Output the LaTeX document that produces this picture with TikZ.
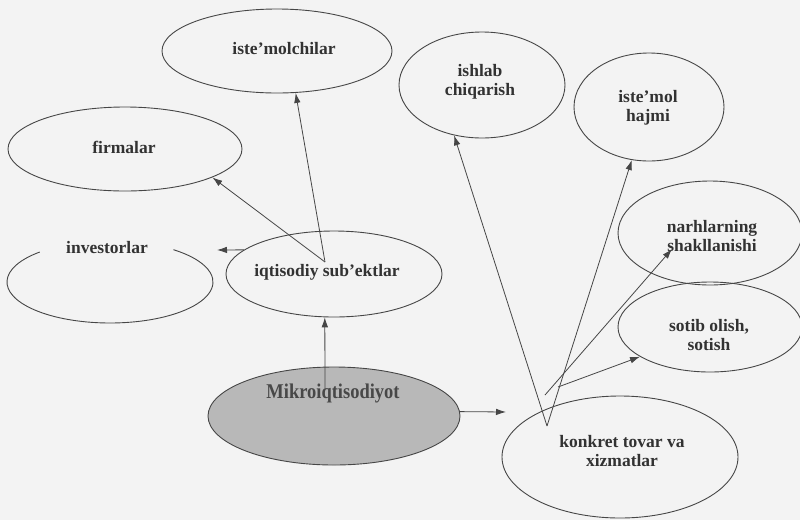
\documentclass[tikz,border=0pt]{standalone}
\usepackage{fontspec}
\setmainfont{Liberation Serif}
\usetikzlibrary{shapes.geometric,arrows.meta,calc}
\definecolor{bg}{RGB}{243,243,243}
\definecolor{lc}{RGB}{70,70,70}
\definecolor{tc}{RGB}{50,50,50}
\definecolor{mf}{RGB}{184,184,184}
\begin{document}
\begin{tikzpicture}[x=1pt,y=-1pt,
  ell/.style={ellipse,draw=lc,line width=0.9pt,inner sep=0pt},
  lab/.style={font=\fontsize{17.5}{19.5}\selectfont\bfseries,text=tc,align=center,inner sep=0pt},
  arr/.style={draw=lc,line width=0.8pt,-{Latex[length=10pt,width=6.5pt]}},
  ln/.style={draw=lc,line width=0.9pt}]
\fill[bg] (0,0) rectangle (800,520);
\useasboundingbox (0,0) rectangle (800,520);
% ellipses
\node[ell,minimum width=230pt,minimum height=84pt] (ist) at (277,51) {};
\node[ell,minimum width=166pt,minimum height=106pt] (ish) at (482,85) {};
\node[ell,minimum width=150pt,minimum height=108pt] (haj) at (649,107) {};
\node[ell,minimum width=234pt,minimum height=84pt] (fir) at (125,149) {};
\node[ellipse,inner sep=0pt,minimum width=206pt,minimum height=82pt] (inv) at (110,282) {};
\draw[ln] ($(inv.center)+(227:103 and 41)$) arc[start angle=227,end angle=-52,x radius=103,y radius=41];
\node[ell,minimum width=216pt,minimum height=86pt] (iqt) at (334,274) {};
\node[ell,minimum width=184pt,minimum height=104pt] (nar) at (710,233) {};
\node[ell,minimum width=184pt,minimum height=90pt] (sot) at (710,327) {};
\node[ell,fill=mf,minimum width=252pt,minimum height=98pt] (mik) at (334,416) {};
\node[ell,minimum width=236pt,minimum height=122pt] (kon) at (620,457) {};
% labels
\node[lab] (tist) at (284,49) {iste'molchilar};
\node[lab] (tish) at (480,82) {ishlab\\chiqarish};
\node[lab] (thaj) at (648,108) {iste'mol\\hajmi};
\node[lab] (tfir) at (124,147) {firmalar};
\node[lab] (tinv) at (107,248) {investorlar};
\node[lab] (tiqt) at (327,272) {iqtisodiy sub'ektlar};
\node[lab] (tnar) at (712,236) {narhlarning\\shakllanishi};
\node[lab] (tsot) at (709,335) {sotib olish,\\sotish};
\node[lab,font=\fontsize{21}{24}\selectfont\bfseries,text={rgb,255:red,72;green,72;blue,72}] (tmik) at (333,393) {\scalebox{0.88}[1]{Mikroiqtisodiyot}};
\node[lab] (tkon) at (622,451) {konkret tovar va\\xizmatlar};
% coordinates
\coordinate (m0) at (325,388);
\coordinate (i0) at (325,262);
\coordinate (v1) at (217,250);
\coordinate (k1) at (506,412);
\coordinate (ka) at (547,426);
\coordinate (kb) at (545,395);
\coordinate (kc) at (558,387);
\coordinate (n1) at (672,249);
% arrows
\draw[arr] (m0) -- (iqt.-102);
\draw[arr] (i0) -- (ist.-66);
\draw[arr] (i0) -- (fir.-18.4);
\draw[arr] (iqt.165) -- (v1);
\draw[arr] (mik.2) -- (k1);
\draw[arr] (ka) -- (ish.-119.6);
\draw[arr] (ka) -- (haj.-108);
\draw[arr] (kb) -- (n1);
\draw[arr] (kc) -- (sot.-157.7);
\end{tikzpicture}
\end{document}
